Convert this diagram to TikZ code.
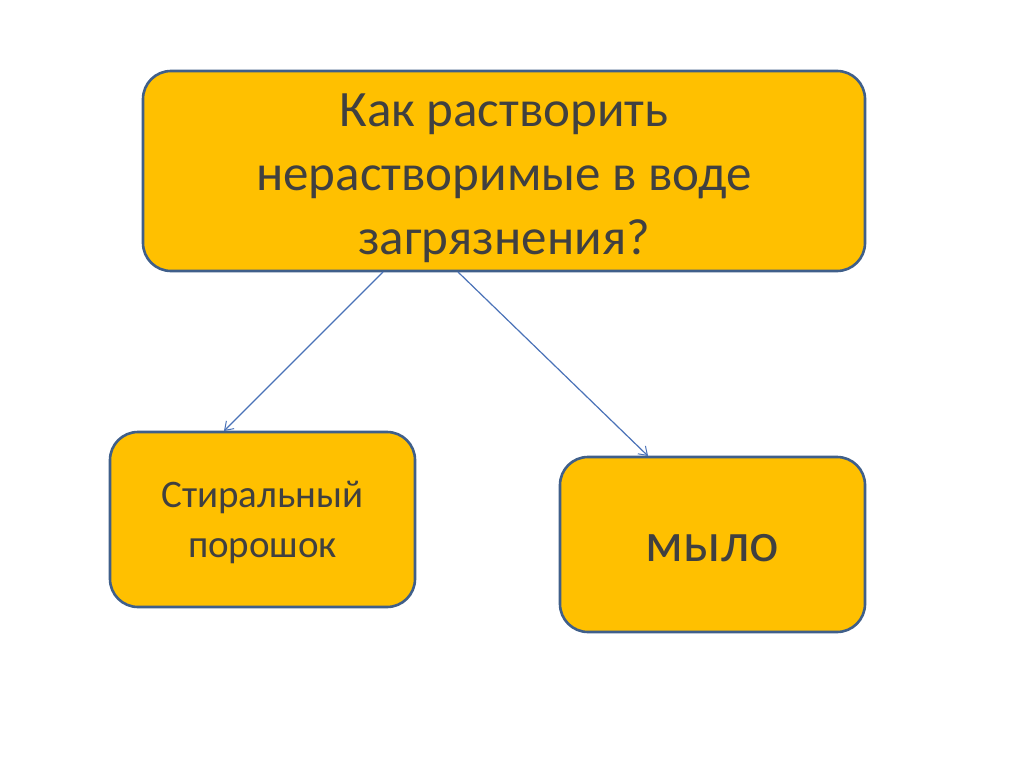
\documentclass[tikz,border=0pt]{standalone}
\usepackage{fontspec}
\setmainfont{Carlito}
\usetikzlibrary{arrows.meta}
\definecolor{boxfill}{HTML}{FFC000}
\definecolor{boxedge}{HTML}{3F5F8A}
\definecolor{arrowc}{HTML}{4A72B8}
\definecolor{txt}{HTML}{404040}
\begin{document}
\begin{tikzpicture}[x=1pt,y=-1pt,
  box/.style={draw=boxedge, line width=2.6pt, fill=boxfill, rounded corners=28pt,
    inner sep=0pt},
  boxtext/.style={align=center, text=txt, inner sep=0pt},
  conn/.style={draw=arrowc, line width=1.2pt, -{Straight Barb[length=8pt,width=11pt,line width=1pt]}}]
\useasboundingbox[fill=white] (0,0) rectangle (1024,767);
\node[box, minimum width=722pt, minimum height=200pt,
  label={[boxtext, yshift=-7pt, font=\fontsize{51pt}{64pt}\selectfont]center:Как растворить\\нерастворимые в воде\\загрязнения?}]
  (q) at (504,171) {};
\node[box, minimum width=305pt, minimum height=175pt,
  label={[boxtext, yshift=-3pt, font=\fontsize{39pt}{50pt}\selectfont]center:Стиральный\\порошок}]
  (a) at (262.5,519.5) {};
\node[box, minimum width=305pt, minimum height=175pt,
  label={[boxtext, yshift=-4pt, font=\fontsize{56pt}{64pt}\selectfont]center:мыло}]
  (b) at (712.5,544.5) {};
\coordinate (qa) at (383,272);
\coordinate (qb) at (458,272);
\coordinate (ae) at (224,431);
\coordinate (be) at (648,456);
\draw[conn] (qa) -- (ae);
\draw[conn] (qb) -- (be);
\end{tikzpicture}
\end{document}
